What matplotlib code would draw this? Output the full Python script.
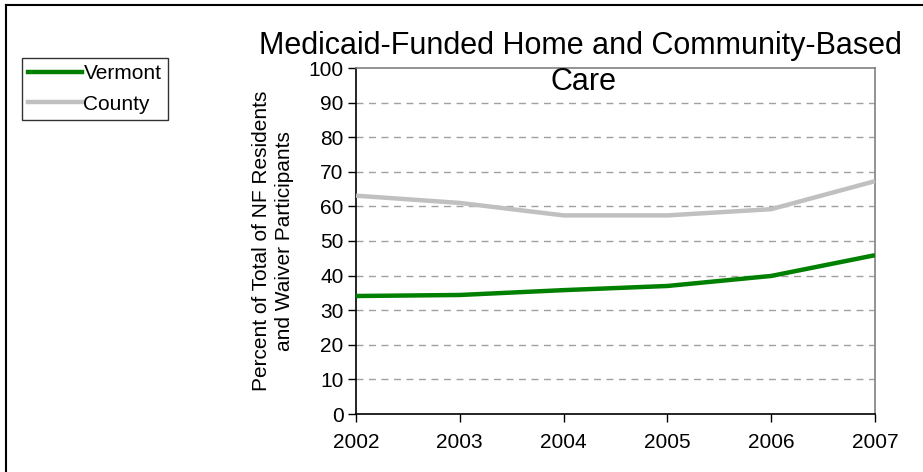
import matplotlib
matplotlib.use("Agg")
import matplotlib.pyplot as plt
from matplotlib.lines import Line2D

years = [2002, 2003, 2004, 2005, 2006, 2007]
vermont = [34.1, 34.4, 35.8, 37.0, 39.9, 45.9]
county = [63.1, 61.0, 57.4, 57.4, 59.2, 67.3]
yticks = list(range(0, 101, 10))
title_lines = ['Medicaid-Funded Home and Community-Based', 'Care']

plt.rcParams['font.family'] = ['Liberation Sans', 'DejaVu Sans']

fig = plt.figure(figsize=(9.23, 4.72), dpi=100)
ax = fig.add_axes([356/923, 1 - 414/472, (875-356)/923, (414-68)/472])

for y in yticks[1:-1]:
    ax.axhline(y, color='#a0a0a0', lw=1, dashes=(5, 4), zorder=1)

ax.plot(years, county, color='#c0c0c0', lw=3.2, solid_capstyle='butt', zorder=3, label='County')
ax.plot(years, vermont, color='#008000', lw=3.2, solid_capstyle='butt', zorder=3, label='Vermont')

ax.set_xlim(2002, 2007)
ax.set_ylim(0, 100)
ax.set_xticks(years)
ax.set_yticks(yticks)
ax.tick_params(axis='both', labelsize=15, length=6, width=1, colors='black', direction='out')
ax.tick_params(axis='x', pad=8)
ax.tick_params(axis='y', pad=3)
for s in ['left', 'bottom']:
    ax.spines[s].set_color('black')
    ax.spines[s].set_linewidth(1.2)
for s in ['top', 'right']:
    ax.spines[s].set_color('#808080')
    ax.spines[s].set_linewidth(1.2)

ax.set_ylabel('Percent of Total of NF Residents\nand Waiver Participants', fontsize=15, labelpad=10, linespacing=1.3)

fig.text(580/923, 1 - 46/472, title_lines[0], ha='center', va='center', fontsize=22)
fig.text(583/923, 1 - 82/472, title_lines[1], ha='center', va='center', fontsize=22)

handles = [Line2D([], [], color='#008000', lw=3.2), Line2D([], [], color='#c0c0c0', lw=3.2)]
leg = fig.legend(handles, ['Vermont', 'County'], loc='upper left', bbox_to_anchor=(22/923, 1 - 58/472),
                 fontsize=15, frameon=True, fancybox=False, edgecolor='black', handlelength=2.6,
                 handletextpad=0.05, borderpad=0.3, labelspacing=0.55, borderaxespad=0, handleheight=0.7)
leg.get_frame().set_linewidth(1)

# figure border (top and left visible)
fig.add_artist(Line2D([6/923, 6/923], [0, 1 - 5/472], color='black', lw=1.5, transform=fig.transFigure))
fig.add_artist(Line2D([6/923, 1], [1 - 5/472, 1 - 5/472], color='black', lw=1.5, transform=fig.transFigure))

fig.savefig('out.png', dpi=100)
